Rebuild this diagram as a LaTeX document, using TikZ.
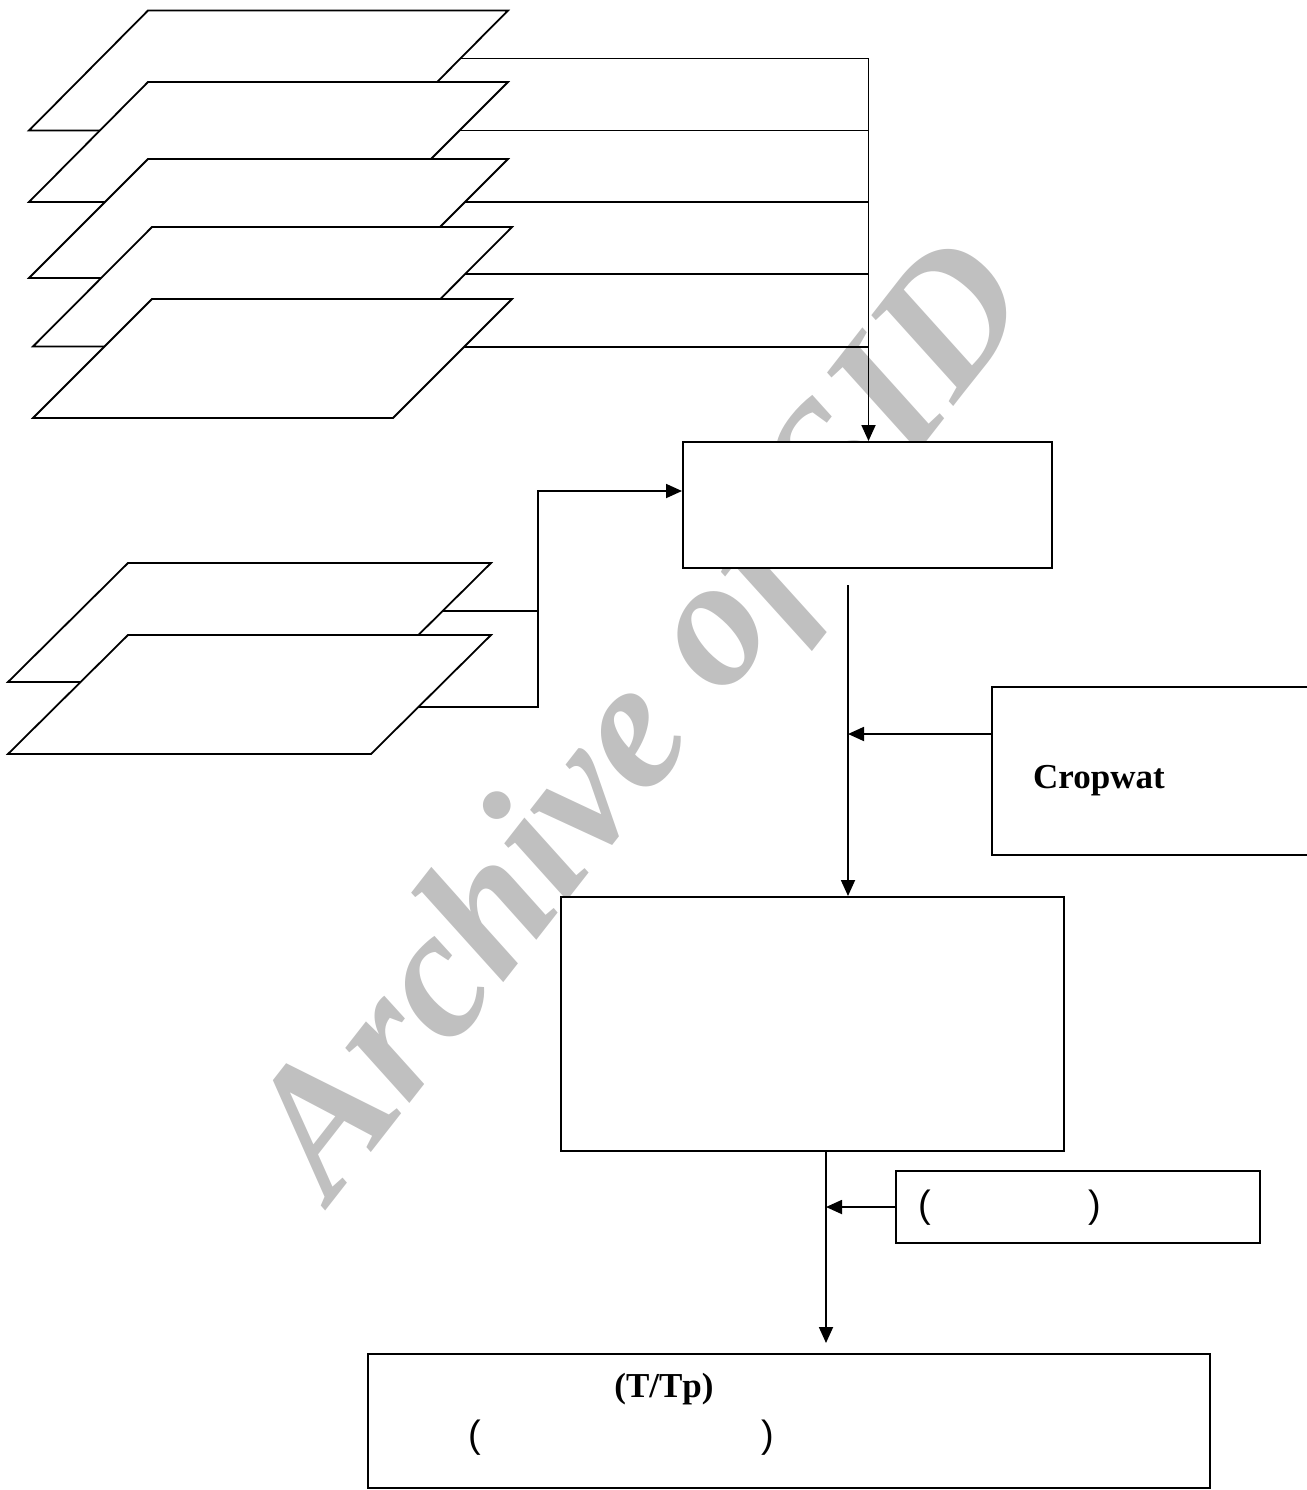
\documentclass[tikz,border=0pt]{standalone}
\usepackage{fontspec}
\setmainfont{Liberation Serif}
\newfontfamily\parfont{Liberation Sans}
\usetikzlibrary{arrows.meta,calc}
\definecolor{wmgray}{RGB}{192,192,192}
\begin{document}
\begin{tikzpicture}[x=1pt,y=-1pt,
  ln/.style={line width=1.8pt},
  conn/.style={ln},
  arr/.style={ln,-{Triangle[length=16pt,width=14pt]}},
  para/.style={line width=1.8pt,fill=white,line join=miter},
  box/.style={draw,line width=2pt,fill=white,inner sep=0pt,rectangle},
  lbl/.style={inner sep=0pt,font=\fontsize{35}{40}\selectfont\bfseries},
  partxt/.style={inner sep=0pt,font=\parfont\fontsize{38}{42}\selectfont},
  wm/.style={text=wmgray,inner sep=0pt,font=\fontsize{184}{200}\selectfont\bfseries\itshape}
]
\useasboundingbox (0,0) rectangle (1306,1490);
% watermark
\node[wm,rotate=52,anchor=base] (wmk) at (684,752) {Archive of SID};

% boxes
\node[box,minimum width=369pt,minimum height=126pt] (box1) at (867.5,505) {};
\node[box,minimum width=320pt,minimum height=168pt] (crop) at (1152,771) {};
\node[box,minimum width=503pt,minimum height=254pt] (box2) at (812.5,1024) {};
\node[box,minimum width=364pt,minimum height=72pt] (sb) at (1078,1207) {};
\node[box,minimum width=842pt,minimum height=134pt] (box3) at (789,1421) {};

% top stack of parallelograms
\draw[para] (29,130.5) -- (148,10.5) -- (508,10.5) -- (389,130.5) -- cycle;
\draw[para] (29,202) -- (148,82) -- (508,82) -- (388,202) -- cycle;
\draw[para] (29,278) -- (148,159) -- (508,159) -- (389,278) -- cycle;
\draw[para] (33,346.5) -- (152,227) -- (512,227) -- (393,346.5) -- cycle;
\draw[para] (33,418) -- (152,299) -- (512,299) -- (393,418) -- cycle;

% lower stack of parallelograms
\draw[para] (8,682) -- (128,563) -- (491,563) -- (371,682) -- cycle;
\draw[para] (8,754) -- (128,635) -- (491,635) -- (371,754) -- cycle;

% connector end points on the parallelograms
\coordinate (p1c) at (460,58.5);
\coordinate (p2c) at (460,130.5);
\coordinate (p3c) at (465,202);
\coordinate (p4c) at (465,274);
\coordinate (p5c) at (464,347);
\coordinate (q1c) at (443,611);
\coordinate (q2c) at (418.5,707);

% top connectors
\coordinate (t1) at (868.5,58.5);
\draw[conn] (p1c) -- (t1);
\draw[arr] (t1) -- (t1 |- box1.north);
\foreach \c in {p2c,p3c,p4c,p5c} \draw[conn] (\c) -- (\c -| t1);

% lower connectors
\coordinate (j1) at (538,707);
\coordinate (j2) at (538,491);
\draw[conn] (q1c) -- (q1c -| j1);
\draw[arr] (q2c) -- (j1) -- (j2) -- (j2 -| box1.west);

% box1 -> box2
\coordinate (s1) at (848,585);
\draw[arr] (s1) -- (s1 |- box2.north);
\path (crop.west) ++(0,-37) coordinate (c1);
\draw[arr] (c1) -- (c1 -| s1);

% box2 -> box3
\path (box2.south) ++(13.5,0) coordinate (s2);
\draw[arr,shorten >=10pt] (s2) -- (s2 |- box3.north);
\draw[arr] (sb.west) -- (sb.west -| s2);

% texts
\node[lbl,anchor=base west] (cw) at (1033,788) {Cropwat};
\node[lbl,anchor=base] (ttp) at (664,1397) {(T/Tp)};
\node[partxt] (sbt) at (1010,1208) {(\hspace{157pt})};
\node[partxt] (b3t) at (621.5,1438) {(\hspace{280pt})};
\end{tikzpicture}
\end{document}
